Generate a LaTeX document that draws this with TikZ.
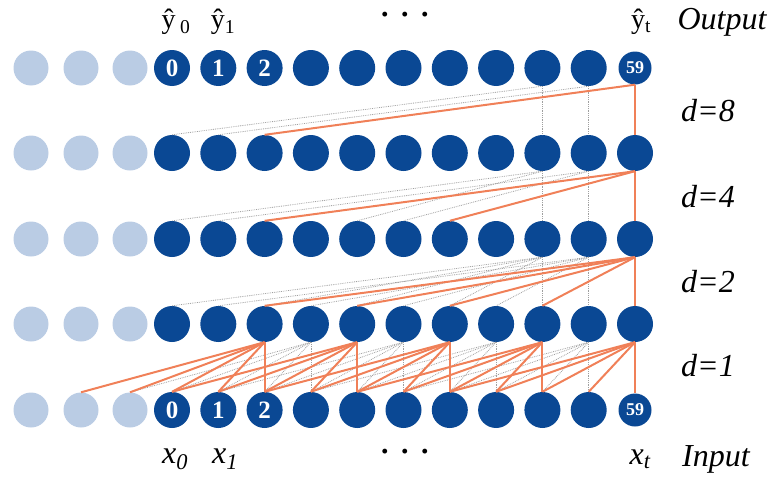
\documentclass[tikz,border=0pt]{standalone}
\usepackage{fontspec}
\setmainfont{Liberation Serif}
\definecolor{nodeblue}{RGB}{10,72,148}
\definecolor{lightblue}{RGB}{186,204,228}
\definecolor{edgeorange}{RGB}{240,128,88}
\begin{document}
\begin{tikzpicture}[x=1pt,y=-1pt,
  dark/.style={circle,fill=nodeblue,minimum size=36pt,inner sep=0pt,text=white,font=\bfseries\fontsize{25}{25}\selectfont},
  small/.style={dark,minimum size=33pt,font=\bfseries\fontsize{18}{18}\selectfont},
  light/.style={circle,fill=lightblue,minimum size=35pt,inner sep=0pt},
  hl/.style={draw=edgeorange,line width=2pt},
  gl/.style={draw=gray!75,densely dotted,line width=0.8pt},
  lab/.style={inner sep=0pt,font=\fontsize{32}{32}\selectfont\itshape},
  ylab/.style={inner sep=0pt,font=\fontsize{28}{28}\selectfont},
  dots/.style={inner sep=0pt,font=\bfseries\fontsize{30}{30}\selectfont}]
\useasboundingbox (0,0) rectangle (783,479);
% rows without numbers
\foreach \r/\y in {1/153,2/239,3/324}{
  \foreach \k/\x in {1/31,2/81,3/130} \node[light] (l-\r-\k) at (\x,\y) {};
  \foreach \c in {0,...,9} \node[dark] (n-\r-\c) at ({172+46.3*\c},\y) {};
  \node[dark] (n-\r-10) at (635,\y) {};
}
% output and input rows
\foreach \r/\y in {0/68,4/410}{
  \foreach \k/\x in {1/31,2/81,3/130} \node[light] (l-\r-\k) at (\x,\y) {};
  \node[dark] (n-\r-0) at (172,\y) {0};
  \node[dark] (n-\r-1) at (218.3,\y) {1};
  \node[dark] (n-\r-2) at (264.6,\y) {2};
  \foreach \c in {3,...,9} \node[dark] (n-\r-\c) at ({172+46.3*\c},\y) {};
  \node[small] (n-\r-10) at (635,\y) {59};
}
% ---- gray dotted connectors ----
% d=8
\foreach \s/\t in {8/8,8/0,9/9,9/1} \draw[gl] (n-0-\s.south) -- (n-1-\t.north);
% d=4
\foreach \s/\t in {8/8,8/4,8/0,9/9,9/5,9/1} \draw[gl] (n-1-\s.south) -- (n-2-\t.north);
% d=2
\foreach \s/\t in {8/8,8/6,8/4,8/2,8/0,9/9,9/7,9/5,9/3,9/1} \draw[gl] (n-2-\s.south) -- (n-3-\t.north);
% d=1
\foreach \c in {5,7,9}{
  \foreach \j in {0,...,4}{
    \pgfmathtruncatemacro\tg{\c-\j}
    \draw[gl] (n-3-\c.south) -- (n-4-\tg.north);
  }
}
\foreach \t in {n-4-3,n-4-2,n-4-1,n-4-0,l-4-3} \draw[gl] (n-3-3.south) -- (\t.north);
% ---- orange connectors ----
\foreach \t in {10,2} \draw[hl] (n-0-10.south) -- (n-1-\t.north);
\foreach \t in {10,6,2} \draw[hl] (n-1-10.south) -- (n-2-\t.north);
\foreach \t in {10,8,6,4,2} \draw[hl] (n-2-10.south) -- (n-3-\t.north);
\foreach \c in {4,6,8,10}{
  \foreach \j in {0,...,4}{
    \pgfmathtruncatemacro\tg{\c-\j}
    \draw[hl] (n-3-\c.south) -- (n-4-\tg.north);
  }
}
\foreach \t in {n-4-2,n-4-1,n-4-0,l-4-3,l-4-2} \draw[hl] (n-3-2.south) -- (\t.north);
% ---- labels ----
\node[ylab] (yh0) at (176,22) {ŷ\,\textsubscript{0}};
\node[ylab] (yh1) at (223,22) {ŷ\textsubscript{1}};
\node[ylab] (yht) at (641,22) {ŷ\textsubscript{t}};
\node[dots] (dtop) at (405,18) {·\hspace{10pt}·\hspace{10pt}·};
\node[lab] (outlab) at (722,22) {Output};
\node[lab] (d8) at (708,111) {d=8};
\node[lab] (d4) at (708,197) {d=4};
\node[lab] (d2) at (708,282) {d=2};
\node[lab] (d1) at (708,366) {d=1};
\node[lab] (x0) at (175,459) {x\textsubscript{0}};
\node[lab] (x1) at (225,459) {x\textsubscript{1}};
\node[dots] (dbot) at (405,455) {·\hspace{10pt}·\hspace{10pt}·};
\node[lab] (xt) at (640,459) {x\textsubscript{t}};
\node[lab] (inlab) at (716,459) {Input};
\end{tikzpicture}
\end{document}
